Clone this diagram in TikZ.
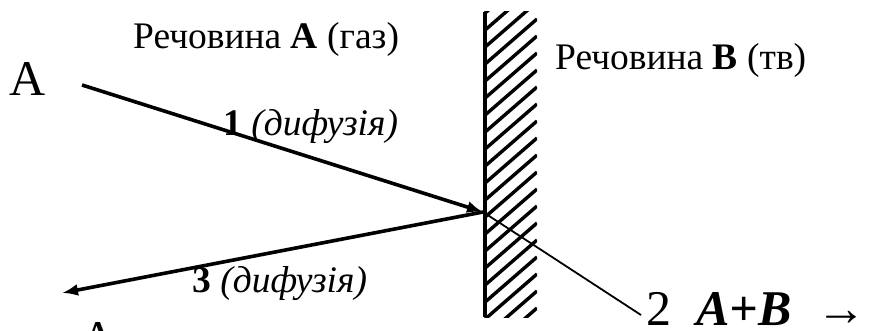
\documentclass[tikz,border=0pt]{standalone}
\usepackage{fontspec}
\setmainfont{Liberation Serif}
\usetikzlibrary{arrows.meta}

\begin{document}
\begin{tikzpicture}[x=1pt, y=-1pt,
    txt/.style={inner sep=0pt, anchor=base west, font=\fontsize{37.5}{42}\selectfont},
    big/.style={inner sep=0pt, anchor=base west, font=\fontsize{50}{56}\selectfont},
    flow/.style={line width=3.6pt, -{Latex[length=16pt, width=12pt]}}]
    \useasboundingbox (0,0) rectangle (869,331);
    \clip (0,0) rectangle (869,331);

    % Solid wall (substance B) with hatching
    \begin{scope}
        \clip (484,12) rectangle (537,317);
        \foreach \y in {14,31,...,380}
            \draw[line width=3.4pt] (484,\y) -- (537,\y-46);
    \end{scope}
    \draw[line width=3.8pt] (485,12) -- (485,317);

    % Labels of the two phases
    \node[txt] (gasA) at (133,49) {Речовина \textbf{A} (газ)};
    \node[txt] (solB) at (555,70) {Речовина \textbf{B} (тв)};

    % Points of the process
    \node[big] (srcA) at (9,96) {A};
    \coordinate (start) at (82,85);
    \coordinate (hit) at (483,212);
    \coordinate (back) at (62,293);
    \coordinate (react) at (641,315);
    \node[big] (outA) at (80,355) {A};

    % Diffusion in, reaction, diffusion out
    \draw[flow] (start) -- (hit);
    \draw[flow] (hit) -- (back);
    \draw[line width=1.8pt] (hit) -- (react);

    \node[txt] (step1) at (223,136) {\textbf{1} \textit{(дифузія)}};
    \node[txt] (step3) at (192,292) {\textbf{3} \textit{(дифузія)}};
    \node[big] (step2) at (646,325) {2\ \ \textbf{\textit{A+B}}\ \ \symbol{"2192}};
\end{tikzpicture}
\end{document}
